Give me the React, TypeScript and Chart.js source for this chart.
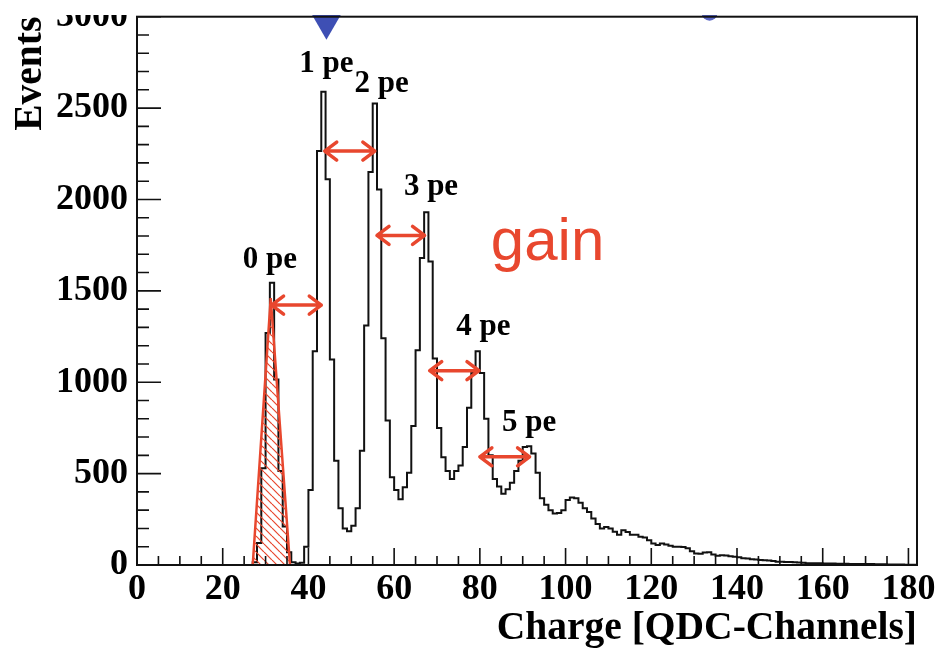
import { useEffect, useRef } from "react";
import { Chart, registerables } from "chart.js";

Chart.register(...registerables);

// Histogram: counts per QDC channel, bin i covers [i, i+1)
const firstChannel = 0;
const counts = [
  0, 0, 0, 0, 0, 0, 0, 0, 0, 0,
  0, 0, 0, 0, 0, 0, 0, 0, 0, 0,
  0, 0, 0, 0, 0, 0, 0, 15, 120, 530,
  1270, 1545, 1015, 515, 210, 70, 15, 8, 12, 100,
  410, 1170, 2265, 2590, 2110, 1125, 570, 310, 200, 185,
  215, 310, 625, 1310, 2150, 2525, 2055, 1240, 790, 480,
  410, 360, 425, 505, 760, 1175, 1680, 1930, 1660, 1130,
  750, 590, 515, 470, 515, 545, 645, 860, 1050, 1170,
  1050, 800, 600, 470, 430, 390, 415, 450, 515, 570,
  645, 650, 610, 505, 365, 330, 300, 282, 285, 300,
  355, 370, 365, 340, 310, 290, 255, 225, 200, 208,
  200, 182, 165, 190, 180, 165, 165, 155, 150, 135,
  118, 110, 118, 112, 105, 100, 100, 98, 92, 75,
  63, 62, 68, 70, 58, 50, 54, 52, 48, 45,
  42, 37, 36, 32, 30, 27, 26, 25, 22, 18,
  18, 17, 16, 15, 14, 12, 10, 9, 9, 9,
  8, 8, 8, 7, 7, 7, 6, 6, 6, 5,
  5, 5, 4, 4, 4, 3, 3, 3, 3, 2,
  2, 2,
];

// Red hatched 0 pe pedestal triangle (channel, events)
const pedestalX = [27, 31.2, 35.7];
const pedestalY = [0, 1460, 0];

// Peak labels
const peLabels = ["0 pe", "1 pe", "2 pe", "3 pe", "4 pe", "5 pe"];
const peLabelX = [31.0, 44.2, 57.1, 68.6, 80.8, 91.5];
const peLabelY = [1627, 2700, 2587, 2023, 1258, 732];

// Gain arrows (double headed)
const arrowFrom = [31.4, 43.8, 56.0, 68.3, 80.0];
const arrowTo = [43.0, 55.5, 67.1, 79.8, 91.6];
const arrowY = [1422, 2265, 1803, 1063, 592];

const gainText = "gain";
const gainX = 95.8;
const gainY = 1670;

// Blue markers at the top
const markerX = [44.2];
const markerY = [2965];
const markerArcX = [133.6];
const markerArcY = [3022];

const xMin = 0;
const xMax = 182;
const xMajorStep = 20;
const xMinorStep = 5;
const yMin = 0;
const yMax = 3000;
const yMajorStep = 500;
const yMinorStep = 100;

const RED = "#e8472e";
const BLUE = "#3e4fb4";
const INK = "#111";

const overlayPlugin = {
  id: "rootOverlay",
  afterDraw(chart: any) {
    const { ctx, chartArea: a, scales } = chart;
    const xs = scales.x;
    const ys = scales.y;
    ctx.save();
    // ticks inside the frame
    ctx.strokeStyle = INK;
    ctx.lineWidth = 1.6;
    ctx.beginPath();
    for (let v = xMin; v <= xMax + 1e-9; v += xMinorStep) {
      const px = xs.getPixelForValue(v);
      const major = Math.abs(v / xMajorStep - Math.round(v / xMajorStep)) < 1e-9;
      ctx.moveTo(px, a.bottom);
      ctx.lineTo(px, a.bottom - (major ? 17 : 9));
    }
    for (let v = yMin; v <= yMax + 1e-9; v += yMinorStep) {
      const py = ys.getPixelForValue(v);
      const major = Math.abs(v / yMajorStep - Math.round(v / yMajorStep)) < 1e-9;
      ctx.moveTo(a.left, py);
      ctx.lineTo(a.left + (major ? 24 : 12), py);
    }
    ctx.stroke();
    // frame
    ctx.lineWidth = 2;
    ctx.strokeRect(a.left, a.top, a.right - a.left, a.bottom - a.top);

    // arrows
    ctx.strokeStyle = RED;
    ctx.lineWidth = 3.5;
    ctx.lineCap = "round";
    ctx.lineJoin = "round";
    for (let i = 0; i < arrowFrom.length; i++) {
      const x1 = xs.getPixelForValue(arrowFrom[i]);
      const x2 = xs.getPixelForValue(arrowTo[i]);
      const y = ys.getPixelForValue(arrowY[i]);
      const h = 12;
      const w = 9;
      ctx.beginPath();
      ctx.moveTo(x1, y);
      ctx.lineTo(x2, y);
      ctx.moveTo(x1 + h, y - w);
      ctx.lineTo(x1, y);
      ctx.lineTo(x1 + h, y + w);
      ctx.moveTo(x2 - h, y - w);
      ctx.lineTo(x2, y);
      ctx.lineTo(x2 - h, y + w);
      ctx.stroke();
    }

    // pe labels
    ctx.fillStyle = "#000";
    ctx.font = 'bold 31px "Liberation Serif"';
    ctx.textAlign = "center";
    ctx.textBaseline = "alphabetic";
    for (let i = 0; i < peLabels.length; i++) {
      ctx.fillText(peLabels[i], xs.getPixelForValue(peLabelX[i]), ys.getPixelForValue(peLabelY[i]));
    }
    // gain
    ctx.fillStyle = RED;
    ctx.font = '60px "Liberation Sans"';
    ctx.fillText(gainText, xs.getPixelForValue(gainX), ys.getPixelForValue(gainY));
    ctx.restore();
  },
};

export default function App() {
  const ref = useRef<HTMLCanvasElement>(null);
  useEffect(() => {
    const canvas = ref.current;
    if (!canvas) return;
    const pc = document.createElement("canvas");
    pc.width = 8;
    pc.height = 8;
    const p = pc.getContext("2d")!;
    p.strokeStyle = RED;
    p.lineWidth = 1.2;
    for (const k of [-8, 0, 8]) {
      p.beginPath();
      p.moveTo(k, 0);
      p.lineTo(k + 8, 8);
      p.stroke();
    }
    const pattern = canvas.getContext("2d")!.createPattern(pc, "repeat");

    const histData = counts.map((v, i) => ({ x: firstChannel + i, y: v }));
    histData.push({ x: firstChannel + counts.length, y: counts[counts.length - 1] });

    const tickFont = { family: '"Liberation Serif"', weight: "bold" as const, size: 36 };
    const titleFont = { family: '"Liberation Serif"', weight: "bold" as const, size: 39.5, lineHeight: 1 };

    const chart = new Chart(canvas, {
      type: "line",
      data: {
        datasets: [
          {
            data: markerX.map((x, i) => ({ x, y: markerY[i] })),
            showLine: false,
            pointStyle: "triangle",
            rotation: 180,
            pointRadius: 16.7,
            pointBackgroundColor: BLUE,
            pointBorderWidth: 0,
            clip: false as any,
          } as any,
          {
            data: markerArcX.map((x, i) => ({ x, y: markerArcY[i] })),
            showLine: false,
            pointStyle: "circle",
            pointRadius: 8,
            pointBackgroundColor: "#5a67c4",
            pointBorderWidth: 0,
            clip: false as any,
          } as any,
          {
            data: pedestalX.map((x, i) => ({ x, y: pedestalY[i] })),
            borderColor: RED,
            borderWidth: 2.5,
            backgroundColor: pattern as any,
            fill: "origin",
            tension: 0,
            pointRadius: 0,
          },
          {
            data: histData,
            borderColor: INK,
            borderWidth: 2,
            stepped: "before",
            fill: false,
            pointRadius: 0,
            tension: 0,
          },
        ],
      },
      options: {
        animation: false,
        responsive: false,
        maintainAspectRatio: false,
        events: [],
        layout: { padding: { top: 12, right: 24, left: 0, bottom: 0 } },
        plugins: { legend: { display: false }, tooltip: { enabled: false } },
        scales: {
          x: {
            type: "linear",
            min: xMin,
            max: xMax,
            grid: { display: false, drawTicks: false },
            border: { display: false },
            ticks: {
              stepSize: xMajorStep,
              includeBounds: false,
              autoSkip: false,
              maxRotation: 0,
              padding: 3,
              color: "#000",
              font: tickFont,
              callback: (v: any) => String(v),
            },
            title: {
              display: true,
              text: "Charge [QDC-Channels]",
              align: "end",
              color: "#000",
              font: titleFont,
              padding: { top: 0, bottom: 1 },
            },
            afterFit(s: any) {
              s.height = 85;
              s.paddingLeft = 0;
              s.paddingRight = 0;
            },
          },
          y: {
            type: "linear",
            min: yMin,
            max: yMax,
            grid: { display: false, drawTicks: false },
            border: { display: false },
            ticks: {
              stepSize: yMajorStep,
              autoSkip: false,
              padding: 9,
              color: "#000",
              font: tickFont,
              callback: (v: any) => String(v),
            },
            title: {
              display: true,
              text: "Events",
              align: "end",
              color: "#000",
              font: titleFont,
              padding: { top: 11, bottom: 0 },
            },
            afterFit(s: any) {
              s.width = 137;
              s.paddingTop = 0;
              s.paddingBottom = 0;
            },
          },
        },
      },
      plugins: [overlayPlugin],
    });
    return () => chart.destroy();
  }, []);

  return (
    <div
      style={{
        position: "fixed",
        left: 0,
        top: 0,
        width: 941,
        height: 650,
        background: "#fff",
        overflow: "hidden",
      }}
    >
      <div
        style={{
          position: "absolute",
          left: 0,
          top: 15,
          width: 941,
          height: 635,
          overflow: "hidden",
        }}
      >
        <canvas
          ref={ref}
          width={941}
          height={650}
          style={{ position: "absolute", left: 0, top: -15, width: 941, height: 650, display: "block" }}
        />
      </div>
    </div>
  );
}
